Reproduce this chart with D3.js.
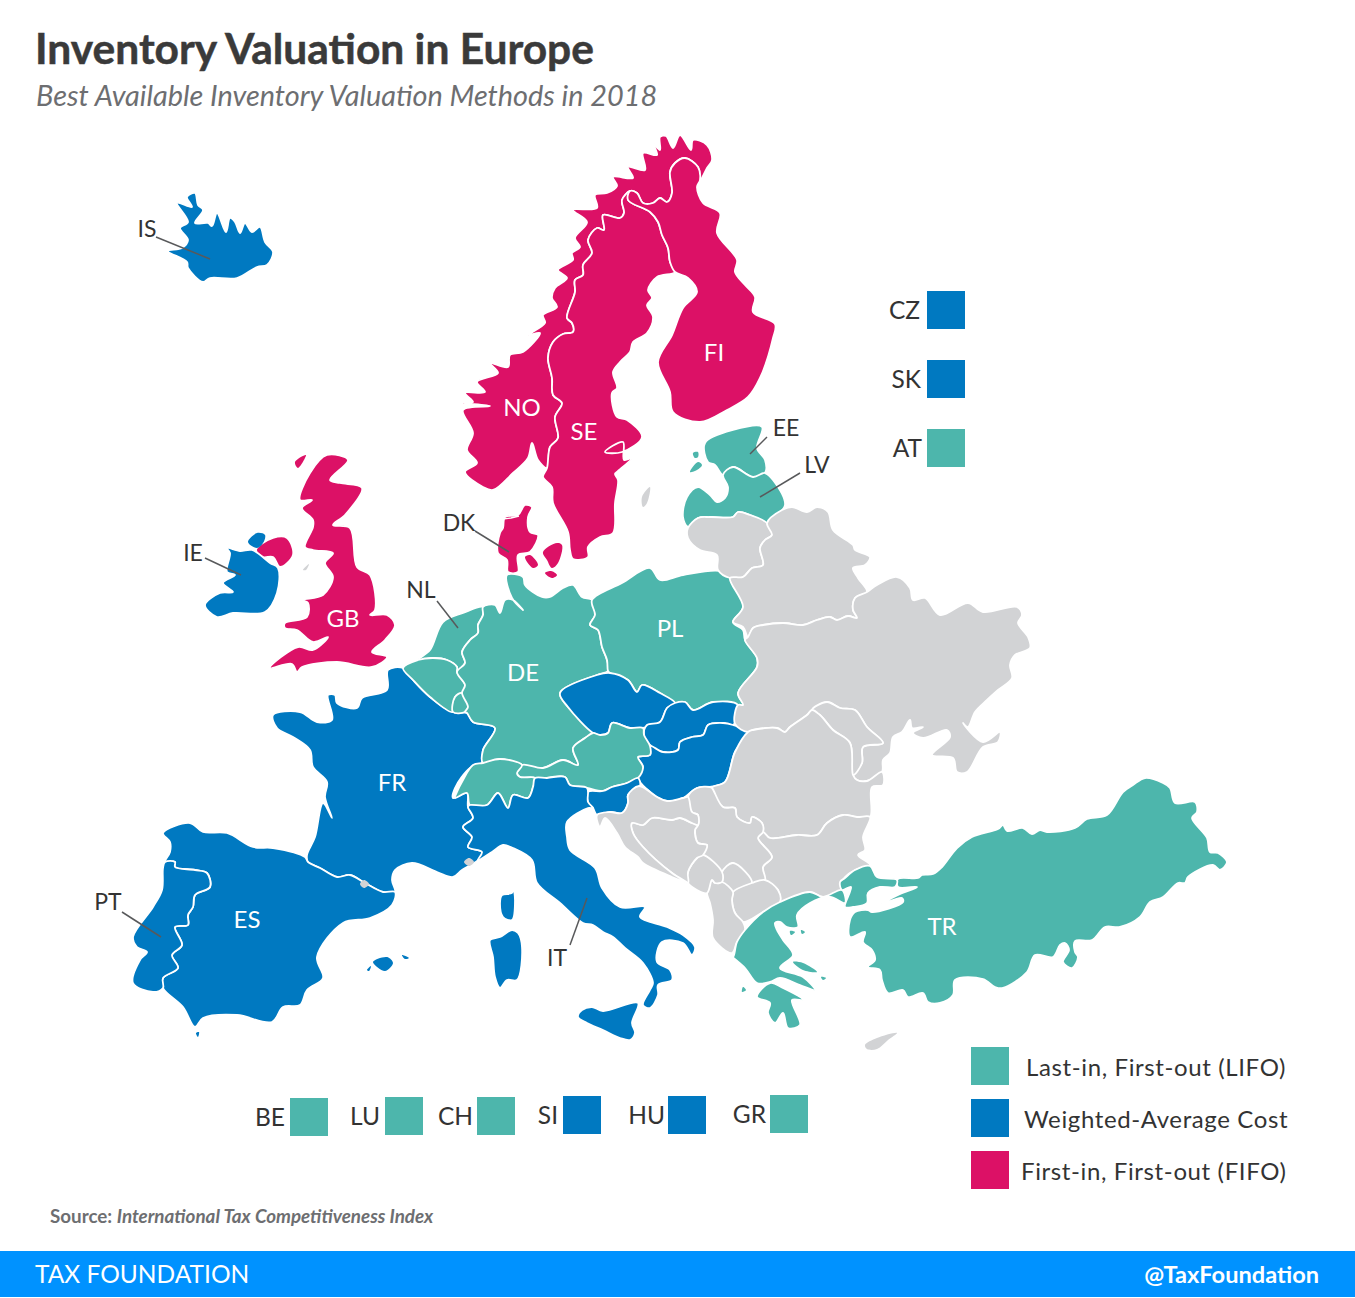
<!DOCTYPE html>
<html>
<head>
<meta charset="utf-8">
<script src="https://cdn.jsdelivr.net/npm/d3@7"></script>
<style>
  html, body { margin: 0; padding: 0; background: #fff; }
  svg { display: block; font-family: Lato, sans-serif; }
</style>
</head>
<body>
<script>
// methods and who uses them
const methods = ["Last-in, First-out (LIFO)", "Weighted-Average Cost", "First-in, First-out (FIFO)"];
const lifo = ["AT","BE","CH","DE","EE","GR","LU","LV","NL","PL","TR"];
const wac = ["CZ","ES","FR","HU","IE","IS","IT","PT","SI","SK"];
const fifo = ["DK","FI","GB","NO","SE"];
const bottomKey = ["BE","LU","CH","SI","HU","GR"];
const rightKey = ["CZ","SK","AT"];

// outlines, in map units
const IS = [[[168,251],[187,262],[188,268],[203,282],[210,278],[237,278],[257,267],[267,265],[273,252],[265,242],[260,227],[252,232],[245,223],[240,233],[235,222],[230,218],[226,232],[217,213],[212,226],[208,223],[195,223],[203,210],[198,205],[195,193],[187,197],[192,207],[177,203],[188,222],[180,228],[188,240],[182,248]]];
const NO = [[[712,160],[707,145],[693,140],[691,150],[680,135],[673,148],[666,136],[660,137],[660,150],[653,143],[657,155],[643,153],[645,170],[628,167],[633,178],[613,177],[617,186],[607,193],[595,195],[597,208],[573,210],[587,222],[575,238],[580,247],[572,253],[573,260],[558,270],[567,278],[555,288],[552,298],[557,307],[543,315],[545,323],[528,335],[540,333],[523,352],[510,355],[508,367],[490,363],[498,373],[477,382],[485,392],[465,393],[473,402],[463,403],[490,406],[463,410],[473,433],[467,450],[477,463],[465,472],[483,487],[493,490],[513,473],[528,458],[532,443],[538,460],[547,468],[550,447],[558,438],[555,417],[562,403],[553,395],[552,378],[548,358],[553,342],[563,334],[573,332],[572,323],[567,318],[575,292],[575,280],[583,275],[583,265],[592,253],[588,240],[597,228],[604,230],[603,215],[620,218],[624,213],[622,200],[630,191],[637,193],[643,203],[653,203],[660,198],[667,202],[672,193],[670,172],[675,163],[685,158],[698,167],[700,180],[707,168]]];
const SE = [[[630,191],[622,200],[624,213],[620,218],[603,215],[604,230],[597,228],[588,240],[592,253],[583,265],[583,275],[575,280],[575,292],[567,318],[572,323],[573,332],[563,334],[553,342],[548,358],[552,378],[553,395],[562,403],[555,417],[558,438],[550,447],[547,468],[543,477],[552,487],[553,503],[568,532],[570,550],[573,559],[588,557],[588,547],[600,537],[613,533],[615,503],[618,480],[615,474],[617,472],[632,458],[624,460],[623,442],[605,452],[622,452],[642,437],[627,420],[617,417],[612,393],[617,388],[613,372],[620,362],[630,352],[633,342],[647,333],[653,317],[647,305],[652,298],[648,290],[657,277],[675,272],[670,262],[668,248],[662,235],[658,222],[650,212],[628,200]]];
const FI = [[[675,272],[688,278],[697,292],[683,308],[672,335],[658,362],[670,392],[673,412],[700,422],[727,410],[748,397],[760,378],[773,338],[775,324],[753,312],[755,297],[745,285],[735,272],[737,260],[717,233],[720,213],[703,203],[697,187],[700,180],[698,167],[685,158],[675,163],[670,172],[672,193],[667,202],[660,198],[653,203],[643,203],[637,193],[630,191],[628,200],[650,212],[658,222],[662,235],[668,248],[670,262]]];
const DK = [[[508,572],[518,572],[518,555],[530,552],[538,535],[530,532],[528,517],[532,507],[525,505],[518,515],[505,517],[503,528],[500,533],[498,553],[507,560]],
  [[525,557],[530,555],[538,565],[533,568]],
  [[543,552],[557,543],[562,545],[558,563],[552,568],[547,560]],
  [[545,573],[551,571],[557,575],[552,578]]];
const GB = [[[327,455],[348,460],[330,480],[340,483],[362,488],[345,515],[333,525],[350,528],[357,567],[370,575],[375,610],[370,615],[387,615],[395,625],[385,640],[372,652],[387,657],[372,667],[337,662],[302,667],[297,672],[292,664],[270,668],[298,647],[313,650],[328,637],[313,642],[297,630],[285,628],[285,623],[307,617],[308,603],[303,600],[323,595],[333,577],[325,563],[333,553],[313,550],[305,547],[313,527],[313,520],[302,508],[312,500],[300,500],[310,473]],
  [[256,550],[273,538],[287,538],[293,555],[280,567],[273,557],[263,557]],
  [[295,462],[306,455],[298,468]]];
const IE = [[[227,548],[240,551],[252,550],[270,563],[278,568],[277,593],[265,612],[233,613],[217,617],[205,605],[220,593],[233,592],[223,583],[235,575],[227,572],[230,553]],
  [[248,542],[257,533],[265,535],[263,543],[257,548]]];
const FR = [[[388,670],[403,668],[413,680],[430,697],[453,712],[467,713],[473,722],[495,728],[483,750],[482,763],[470,768],[455,788],[453,798],[467,793],[468,807],[473,818],[463,827],[472,837],[468,847],[482,852],[478,860],[462,870],[453,877],[437,872],[412,863],[395,870],[392,880],[395,892],[383,892],[365,883],[350,875],[337,877],[320,868],[308,862],[307,855],[315,837],[323,803],[332,818],[325,797],[327,782],[313,767],[310,750],[293,737],[277,728],[273,715],[300,712],[317,722],[332,720],[328,695],[335,695],[337,703],[357,708],[362,698],[387,690]]];
const ES = [[[163,833],[190,823],[203,832],[227,833],[253,847],[273,848],[305,857],[308,862],[320,868],[337,877],[350,875],[365,883],[383,892],[395,892],[392,905],[370,918],[343,923],[317,957],[323,978],[307,990],[300,1005],[283,1007],[272,1022],[237,1015],[203,1018],[195,1027],[183,1007],[163,988],[163,978],[178,968],[172,955],[182,945],[175,927],[188,925],[188,915],[193,907],[195,895],[210,887],[207,873],[195,870],[175,867],[175,862],[165,862],[170,852],[170,842]],
  [[373,962],[387,957],[393,963],[385,971]],
  [[402,955],[409,958],[405,959]],
  [[367,970],[371,966],[369,971]],
  [[196,1033],[199,1032],[198,1037]]];
const PT = [[[165,862],[175,862],[175,867],[195,870],[207,873],[210,887],[195,895],[193,907],[188,915],[188,925],[175,927],[182,945],[172,955],[178,968],[163,978],[163,988],[153,992],[133,983],[140,960],[147,952],[137,947],[133,937],[153,907],[162,890],[163,868]]];
const NL = [[[483,607],[463,613],[443,622],[430,650],[418,660],[433,658],[447,660],[457,667],[457,672],[465,663],[462,652],[470,640],[478,633],[478,625],[483,615]]];
const BE = [[[403,668],[418,660],[433,658],[447,660],[457,667],[457,672],[465,685],[462,693],[455,697],[453,712],[430,697],[413,680]]];
const LU = [[[453,712],[455,697],[462,693],[468,707],[465,712]]];
const DE = [[[483,607],[495,605],[500,613],[505,600],[513,600],[523,610],[512,598],[507,575],[523,577],[525,585],[542,597],[550,597],[563,588],[573,585],[582,597],[592,600],[595,615],[590,625],[598,630],[602,647],[607,660],[608,671],[597,675],[560,693],[568,707],[593,733],[585,738],[573,748],[578,765],[563,760],[543,768],[522,765],[500,759],[483,763],[483,750],[495,728],[473,722],[467,713],[465,712],[468,707],[462,693],[465,685],[457,672],[465,663],[462,652],[470,640],[478,633],[478,625],[483,615]]];
const PL = [[[592,600],[622,583],[650,568],[660,580],[683,575],[720,571],[730,578],[743,607],[733,622],[743,630],[745,640],[757,658],[757,667],[738,693],[743,705],[713,702],[693,710],[685,702],[675,703],[660,693],[642,685],[637,692],[628,680],[610,673],[608,671],[607,660],[602,647],[598,630],[590,625],[595,615]]];
const CZ = [[[560,693],[597,675],[610,673],[628,680],[637,692],[642,685],[660,693],[675,703],[667,708],[660,722],[643,728],[630,728],[612,723],[608,733],[600,735],[593,733],[568,707]]];
const SK = [[[675,703],[685,702],[693,710],[713,702],[738,705],[733,725],[723,723],[708,725],[703,735],[692,737],[680,742],[678,750],[663,752],[650,745],[644,735],[647,725],[660,722],[667,708]]];
const HU = [[[650,746],[663,752],[678,750],[680,742],[692,737],[703,735],[708,725],[723,723],[733,725],[748,732],[735,752],[725,782],[710,787],[697,788],[683,798],[667,801],[657,797],[638,778],[643,767],[638,757],[650,755]]];
const AT = [[[593,733],[600,735],[608,733],[612,723],[630,728],[643,728],[644,735],[650,746],[650,755],[638,757],[643,767],[638,778],[627,783],[612,787],[603,791],[587,788],[570,785],[565,777],[547,778],[537,782],[535,778],[520,777],[517,773],[522,765],[543,768],[563,760],[578,765],[573,748],[585,738]]];
const CH = [[[455,798],[457,792],[463,780],[473,765],[483,763],[500,759],[522,765],[517,773],[520,777],[535,778],[533,787],[528,798],[513,795],[508,808],[498,793],[487,805],[470,805],[467,793]]];
const SI = [[[588,792],[603,791],[612,787],[627,783],[638,778],[640,786],[628,795],[628,803],[622,813],[610,812],[597,815],[593,808],[588,802]]];
const IT = [[[468,807],[470,805],[487,805],[498,793],[508,808],[513,795],[528,798],[533,787],[535,778],[547,778],[565,777],[570,785],[587,788],[588,802],[593,808],[588,808],[567,822],[567,837],[570,850],[595,868],[602,888],[620,907],[645,907],[640,917],[667,927],[683,935],[695,947],[692,955],[683,943],[662,942],[657,962],[670,970],[672,980],[658,985],[658,995],[650,1008],[643,1005],[650,990],[653,983],[643,963],[625,948],[613,937],[603,932],[593,925],[583,923],[560,903],[537,883],[532,860],[513,848],[503,845],[492,852],[478,860],[482,852],[468,847],[472,837],[463,827],[473,818]],
  [[578,1017],[582,1010],[592,1007],[603,1011],[638,1003],[632,1023],[635,1033],[630,1040],[620,1038],[603,1030],[587,1023]],
  [[490,940],[500,937],[512,930],[518,933],[522,947],[517,980],[507,980],[500,988],[495,977],[493,957]],
  [[513,886],[515,900],[512,920],[503,917],[500,903],[502,895],[512,893]],
  [[570,857],[574,855],[574,860]]];
const EE = [[[705,443],[733,430],[762,427],[757,448],[765,460],[765,473],[753,477],[733,467],[723,475],[715,465],[708,462]],
  [[690,472],[698,462],[702,465],[697,470]],
  [[693,453],[698,452],[698,457],[695,458]]];
const LV = [[[687,497],[698,487],[710,495],[717,502],[725,498],[728,487],[723,475],[733,467],[753,477],[765,473],[773,480],[785,505],[775,517],[767,523],[750,515],[738,512],[733,517],[710,517],[698,518],[688,527],[683,517]]];
const LT = [[[688,528],[698,518],[710,517],[733,517],[738,512],[750,515],[767,523],[772,535],[765,540],[760,548],[763,565],[752,568],[743,577],[730,578],[718,570],[717,555],[700,550],[688,538]]];
const BY = [[[767,523],[782,510],[792,507],[807,512],[817,507],[828,512],[833,530],[853,545],[855,550],[870,557],[865,565],[853,568],[858,578],[867,592],[855,598],[853,610],[857,618],[848,616],[837,620],[830,617],[817,620],[803,625],[783,623],[763,625],[753,628],[748,637],[743,627],[733,622],[743,607],[730,578],[743,577],[752,568],[763,565],[760,548],[765,540],[772,535]]];
const UA = [[[748,637],[753,628],[763,625],[783,623],[803,625],[817,620],[830,617],[837,620],[848,616],[857,618],[853,610],[855,598],[867,592],[877,585],[897,577],[910,588],[913,600],[925,598],[940,615],[968,603],[983,612],[1017,607],[1022,615],[1018,623],[1028,637],[1030,648],[1015,655],[1010,665],[1012,678],[998,690],[987,700],[975,712],[968,727],[963,723],[983,742],[1000,732],[998,742],[983,747],[967,772],[957,772],[953,758],[932,755],[950,737],[947,730],[923,738],[913,733],[923,727],[912,728],[910,720],[902,732],[893,737],[890,753],[883,760],[882,772],[867,781],[857,780],[853,775],[862,763],[863,747],[883,743],[867,727],[855,710],[840,708],[827,702],[812,710],[807,715],[790,727],[785,732],[777,728],[753,730],[748,732],[735,724],[738,705],[743,705],[738,693],[757,667],[757,658],[745,640]]];
const MD = [[[812,710],[827,702],[840,708],[855,710],[867,727],[883,743],[863,747],[862,763],[853,775],[850,743],[833,730],[820,715]]];
const RO = [[[748,732],[753,730],[777,728],[785,732],[790,727],[807,715],[812,710],[820,715],[833,730],[850,743],[853,775],[857,780],[867,781],[882,772],[883,785],[872,787],[870,817],[857,817],[843,815],[827,823],[817,835],[797,835],[770,838],[763,832],[762,823],[752,817],[750,823],[737,817],[735,808],[723,807],[712,788],[725,782],[735,752]]];
const BG = [[[770,838],[797,835],[817,835],[827,823],[843,815],[857,817],[870,817],[863,837],[865,850],[858,855],[870,865],[855,870],[845,877],[842,882],[842,890],[823,897],[810,892],[780,902],[778,890],[765,880],[763,867],[772,857],[758,838],[763,832]]];
const RS = [[[688,797],[697,788],[710,787],[712,788],[723,807],[735,808],[737,817],[750,823],[752,817],[762,823],[763,832],[758,838],[772,857],[763,867],[765,880],[752,883],[733,863],[722,872],[703,855],[707,845],[698,843],[695,830],[698,815],[692,812]]];
const XK = [[[722,872],[733,863],[752,883],[733,892],[722,882]]];
const MK = [[[733,892],[752,883],[765,880],[778,890],[780,902],[763,912],[743,922],[735,913],[732,900]]];
const AL = [[[707,893],[712,880],[715,883],[722,882],[733,892],[732,900],[735,913],[743,922],[745,930],[737,942],[732,953],[713,938],[713,920],[710,903]]];
const ME = [[[688,883],[688,872],[697,858],[703,855],[722,872],[722,882],[715,883],[712,880],[707,893],[697,890]]];
const BA = [[[632,823],[643,825],[652,818],[672,820],[680,818],[692,823],[698,825],[695,830],[698,843],[707,845],[703,855],[697,858],[688,872],[688,883],[672,873],[643,847],[633,833]]];
const HR = [[[639,786],[657,797],[667,801],[683,798],[688,797],[692,812],[698,815],[698,825],[692,823],[680,818],[672,820],[652,818],[643,825],[632,823],[633,833],[643,847],[672,873],[688,883],[672,877],[643,863],[638,857],[625,847],[617,833],[605,818],[600,827],[597,815],[610,812],[622,813],[628,803],[628,795]]];
const GR = [[[730,955],[733,957],[737,942],[745,930],[763,912],[780,902],[810,892],[823,897],[842,890],[845,903],[830,897],[810,903],[797,915],[798,927],[787,927],[780,922],[775,923],[777,930],[783,940],[793,955],[780,968],[803,977],[815,990],[800,985],[780,978],[770,982],[757,983],[745,968]],
  [[757,997],[770,983],[783,988],[803,1000],[792,1000],[800,1025],[788,1028],[783,1013],[775,1023],[768,1013],[770,1003]],
  [[793,962],[803,963],[817,972],[803,970]],
  [[790,931],[795,932],[791,935]],
  [[801,930],[805,932],[802,934]],
  [[821,977],[826,978],[823,980]],
  [[743,987],[746,990],[742,992]]];
const TR = [[[898,879],[918,878],[922,875],[933,874],[942,867],[957,848],[972,837],[998,829],[1003,825],[1007,831],[1023,828],[1032,834],[1040,830],[1047,832],[1075,828],[1087,819],[1107,815],[1123,792],[1133,785],[1145,778],[1163,783],[1170,788],[1175,803],[1195,802],[1197,812],[1192,818],[1207,838],[1210,852],[1218,853],[1227,862],[1220,870],[1213,865],[1188,877],[1185,883],[1178,883],[1163,897],[1150,902],[1140,917],[1120,927],[1105,927],[1092,940],[1075,941],[1075,952],[1078,957],[1072,968],[1063,962],[1069,950],[1065,943],[1060,945],[1053,957],[1035,955],[1027,972],[1003,988],[995,987],[983,979],[955,980],[953,995],[940,1003],[928,1002],[923,993],[908,997],[903,990],[888,993],[882,980],[880,970],[868,967],[875,960],[872,950],[863,942],[865,932],[850,937],[850,920],[855,912],[868,910],[872,912],[903,902],[902,898],[880,905],[898,895],[917,887],[898,887]],
  [[842,890],[840,882],[845,878],[855,870],[870,866],[877,877],[897,880],[895,887],[880,887],[868,893],[867,903],[853,907],[845,907],[851,887]]];
const CY = [[[865,1045],[877,1038],[897,1033],[888,1040],[877,1049],[867,1049]]];
const otherLand = [[[642,497],[650,487],[647,503],[643,507]], [[303,570],[309,564],[306,570]], [[464,862],[469,858],[474,862],[469,866]], [[360,884],[364,880],[369,884],[364,888]]];

const outlines = {
  IS, NO, SE, FI, DK, GB, IE, FR, ES, PT, NL, BE, LU, DE, PL, CZ, SK, HU, AT, CH, SI, IT,
  EE, LV, LT, BY, UA, MD, RO, BG, RS, XK, MK, AL, ME, BA, HR, GR, TR, CY, otherLand
};

// labels
const insideLabels = ["NO","SE","FI","GB","DE","PL","FR","ES","TR"];
const calloutLabels = ["IS","IE","DK","NL","EE","LV","PT","IT"];

const width = 1355, height = 1298;
const colors = { lifo: "#4DB6AC", wac: "#0079C1", fifo: "#DC1166", none: "#D2D3D5" };
const methodColor = d3.scaleOrdinal().domain(methods).range([colors.lifo, colors.wac, colors.fifo]);

function countryColor(id) {
  if (lifo.includes(id)) return methodColor(methods[0]);
  if (wac.includes(id)) return methodColor(methods[1]);
  if (fifo.includes(id)) return methodColor(methods[2]);
  return colors.none;
}

const svg = d3.select("body").append("svg").attr("width", width).attr("height", height);

// title block
svg.append("text").attr("x", 35).attr("y", 64).attr("font-size", 42.5).attr("font-weight", 700)
  .attr("fill", "#3A3A3A").attr("stroke", "#3A3A3A").attr("stroke-width", 0.5)
  .text("Inventory Valuation in Europe");
svg.append("text").attr("x", 36).attr("y", 106).attr("font-size", 28.85).attr("font-style", "italic")
  .attr("fill", "#6D6E71").text("Best Available Inventory Valuation Methods in 2018");

// map: one path per ring, the rounded curve takes the corners off the tracing
const ringPath = d3.line().curve(d3.curveCatmullRomClosed.alpha(0.5));
const rings = Object.keys(outlines).flatMap((id) => outlines[id].map((ring) => ({ id, ring })));
svg.append("g").selectAll("path").data(rings).enter().append("path")
  .attr("d", (d) => ringPath(d.ring))
  .attr("fill", (d) => countryColor(d.id))
  .attr("stroke", (d) => (Math.abs(d3.polygonArea(d.ring)) < 300 && !["LU","XK","SI"].includes(d.id) ? "none" : "#fff"))
  .attr("stroke-width", 1.8)
  .attr("stroke-linejoin", "round");

// Limfjord
svg.append("path").attr("d", "M503,519 L511,518 L519,516").attr("fill", "none").attr("stroke", "#fff").attr("stroke-width", 1.3);

// labels inside the countries
const insidePos = { NO: [522, 408], SE: [584, 432], FI: [714, 353], GB: [343, 619], DE: [523, 673], PL: [670, 629], FR: [392, 783], ES: [247, 920], TR: [942, 927] };
svg.append("g").selectAll("text").data(insideLabels).enter().append("text")
  .attr("x", (d) => insidePos[d][0]).attr("y", (d) => insidePos[d][1])
  .attr("dy", "0.35em").attr("text-anchor", "middle").attr("font-size", 24)
  .attr("fill", "#fff").text((d) => d);

// callouts outside with a leader line
const calloutPos = {
  IS: { text: [147, 229], line: [156, 237, 210, 259] },
  IE: { text: [193, 553], line: [205, 558, 241, 575] },
  DK: { text: [459, 523], line: [475, 531, 509, 552] },
  NL: { text: [421, 590], line: [437, 601, 458, 628] },
  EE: { text: [786, 428], line: [767, 437, 750, 454] },
  LV: { text: [817, 465], line: [800, 473, 760, 497] },
  PT: { text: [108, 902], line: [122, 912, 161, 937] },
  IT: { text: [557, 958], line: [587, 898, 570, 945] },
};
const callouts = svg.append("g").selectAll("g").data(calloutLabels).enter().append("g");
callouts.append("line")
  .attr("x1", (d) => calloutPos[d].line[0]).attr("y1", (d) => calloutPos[d].line[1])
  .attr("x2", (d) => calloutPos[d].line[2]).attr("y2", (d) => calloutPos[d].line[3])
  .attr("stroke", "#58595B").attr("stroke-width", 1.5);
callouts.append("text")
  .attr("x", (d) => calloutPos[d].text[0]).attr("y", (d) => calloutPos[d].text[1])
  .attr("dy", "0.35em").attr("text-anchor", "middle").attr("font-size", 23)
  .attr("fill", "#333").text((d) => d);

// small-country keys
const keyPos = {
  CZ: [927, 291, 7], SK: [927, 360, 6], AT: [927, 429, 5],
  BE: [290, 1098, 5], LU: [385, 1097, 5], CH: [477, 1097, 4], SI: [563, 1096, 5], HU: [668, 1096, 3], GR: [770, 1095, 4],
};
const swatch = 38;
const keys = svg.append("g").selectAll("g").data(rightKey.concat(bottomKey)).enter().append("g")
  .attr("transform", (d) => `translate(${keyPos[d][0]},${keyPos[d][1]})`);
keys.append("rect").attr("width", swatch).attr("height", swatch)
  .attr("fill", (d) => countryColor(d));
keys.append("text").attr("x", (d) => -keyPos[d][2]).attr("y", swatch / 2).attr("dy", "0.35em")
  .attr("text-anchor", "end").attr("font-size", 24.5).attr("fill", "#333").text((d) => d);

// legend
const legendY = d3.scalePoint().domain(methods).range([1047, 1151]);
const legendTextX = { [methods[0]]: 1026, [methods[1]]: 1024, [methods[2]]: 1021 };
const legend = svg.append("g").selectAll("g").data(methods).enter().append("g");
legend.append("rect").attr("x", 971).attr("y", (d) => legendY(d)).attr("width", 38).attr("height", 38)
  .attr("fill", (d) => methodColor(d));
legend.append("text").attr("x", (d) => legendTextX[d]).attr("y", (d) => legendY(d) + 21)
  .attr("dy", "0.35em").attr("font-size", 24).attr("letter-spacing", 0.62).attr("fill", "#333").text((d) => d);

// source
const source = svg.append("text").attr("x", 50).attr("y", 1223).attr("font-size", 18.8).attr("fill", "#6D6E71");
source.append("tspan").attr("font-weight", 700).text("Source: ");
source.append("tspan").attr("font-weight", 700).attr("font-style", "italic").text("International Tax Competitiveness Index");

// footer bar
svg.append("rect").attr("x", 0).attr("y", 1251).attr("width", width).attr("height", 46).attr("fill", "#0092FF");
svg.append("text").attr("x", 35).attr("y", 1283).attr("font-size", 24.5).attr("fill", "#fff").text("TAX FOUNDATION");
svg.append("text").attr("x", 1319).attr("y", 1283).attr("text-anchor", "end").attr("font-size", 23.6)
  .attr("font-weight", 700).attr("fill", "#fff").text("@TaxFoundation");
</script>
</body>
</html>
